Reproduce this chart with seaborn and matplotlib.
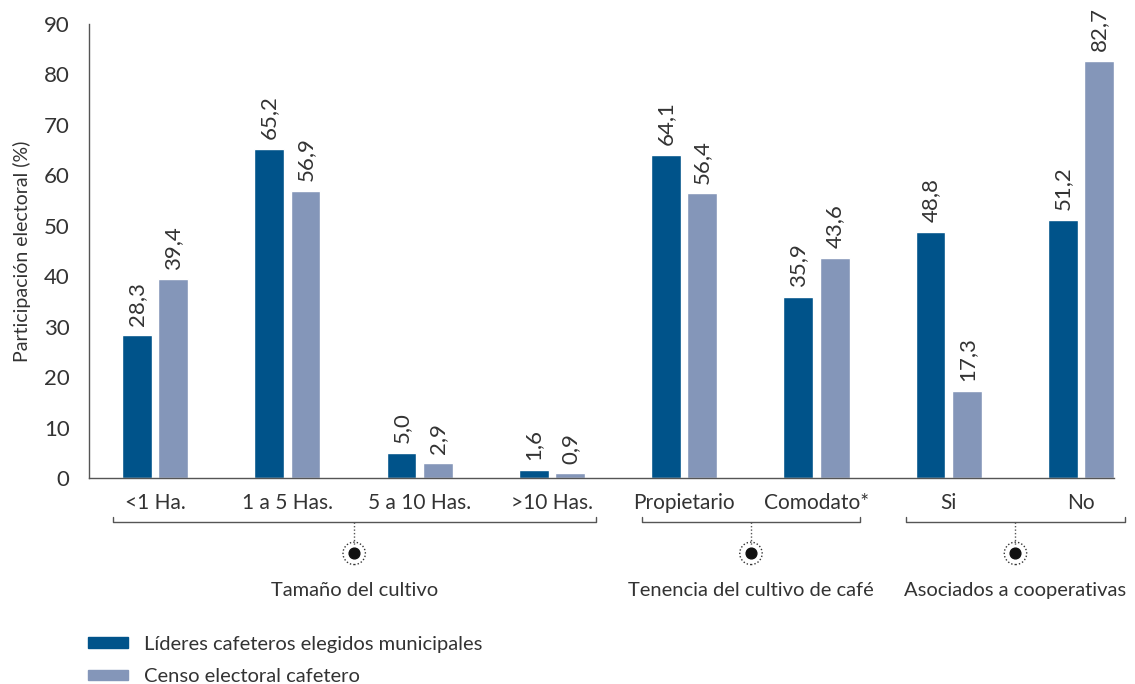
import matplotlib
matplotlib.use("Agg")
import matplotlib.pyplot as plt
import matplotlib.transforms as mtransforms
import pandas as pd
import seaborn as sns

categories = ["<1 Ha.", "1 a 5 Has.", "5 a 10 Has.", ">10 Has.",
              "Propietario", "Comodato*", "Si", "No"]
lideres = [28.3, 65.2, 5.0, 1.6, 64.1, 35.9, 48.8, 51.2]
censo = [39.4, 56.9, 2.9, 0.9, 56.4, 43.6, 17.3, 82.7]
series_names = ["Líderes cafeteros elegidos municipales", "Censo electoral cafetero"]
groups = ["Tamaño del cultivo", "Tenencia del cultivo de café", "Asociados a cooperativas"]
group_members = [(0, 3), (4, 5), (6, 7)]

df = pd.DataFrame({
    "categoria": categories * 2,
    "valor": lideres + censo,
    "serie": [series_names[0]] * len(categories) + [series_names[1]] * len(categories),
})

sns.set_style("white")
plt.rcParams["font.family"] = ["Lato", "DejaVu Sans"]
text_color = "#333333"
palette = {series_names[0]: "#00538a", series_names[1]: "#8496b9"}

fig = plt.figure(figsize=(11.35, 6.84), dpi=100)
ax = fig.add_axes([89 / 1135, 1 - 478 / 684, (1114 - 89) / 1135, (478 - 24) / 684])

sns.barplot(data=df, x="categoria", y="valor", hue="serie", order=categories,
            hue_order=series_names, palette=palette, width=0.55, gap=0.18,
            saturation=1, ax=ax, legend=False)

for cont in ax.containers:
    labels = [f"{b.get_height():.1f}".replace(".", ",") for b in cont]
    ax.bar_label(cont, labels=labels, rotation=90, padding=7, fontsize=16,
                 color=text_color)

ax.set_ylim(0, 90)
ax.set_xlim(-0.5, 7.25)
ax.set_yticks(range(0, 91, 10))
ax.tick_params(axis="y", length=0, labelsize=16, labelcolor=text_color, pad=14)
ax.tick_params(axis="x", length=0, labelsize=15, labelcolor=text_color, pad=11)
ax.set_xlabel("")
ax.set_ylabel("Participación electoral (%)", fontsize=14, color=text_color, labelpad=9)
for side in ["top", "right"]:
    ax.spines[side].set_visible(False)
for side in ["left", "bottom"]:
    ax.spines[side].set_color("#555555")
    ax.spines[side].set_linewidth(1.0)

# group brackets below the category labels
trans = mtransforms.blended_transform_factory(ax.transData, ax.transAxes)
for name, (i0, i1) in zip(groups, group_members):
    x0, x1 = i0 - 0.32, i1 + 0.33
    xc = (x0 + x1) / 2
    ax.plot([x0, x0, x1, x1], [-0.086, -0.097, -0.097, -0.086], color="#555555",
            lw=1.0, transform=trans, clip_on=False)
    ax.plot([xc, xc], [-0.097, -0.150], color="#555555", lw=1.0, ls=(0, (1, 1.5)),
            transform=trans, clip_on=False)
    ax.scatter([xc], [-0.166], s=60, color="#111111", transform=trans, clip_on=False,
               zorder=5)
    ax.scatter([xc], [-0.166], s=260, facecolors="none", edgecolors="#333333",
               linewidths=1.0, linestyles=(0, (1, 1.5)), transform=trans,
               clip_on=False, zorder=5)
    ax.text(xc, -0.247, name, transform=trans, ha="center", va="center",
            fontsize=14.5, color=text_color)

handles = [plt.Rectangle((0, 0), 1, 1, color=palette[s]) for s in series_names]
fig.legend(handles, series_names, loc="upper left",
           bbox_to_anchor=(88 / 1135, 1 - 636 / 684), frameon=False,
           borderpad=0, borderaxespad=0,
           fontsize=14.5, handlelength=2.0, handleheight=0.45, labelspacing=0.75,
           handletextpad=0.8, labelcolor=text_color)

fig.savefig("out.png", dpi=100)
